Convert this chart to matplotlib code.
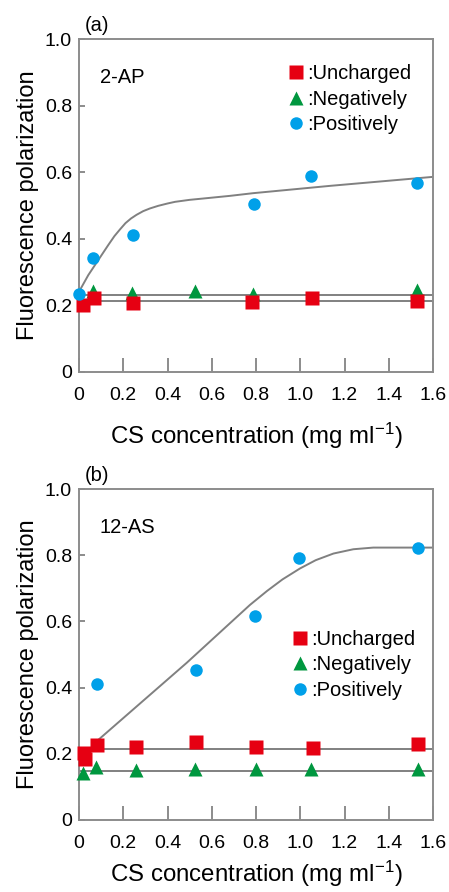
import matplotlib
matplotlib.use("Agg")
import matplotlib.pyplot as plt
from matplotlib.lines import Line2D

plt.rcParams['font.family'] = ['Liberation Sans', 'DejaVu Sans']
plt.rcParams['mathtext.fontset'] = 'custom'
plt.rcParams['mathtext.rm'] = 'Liberation Sans'
plt.rcParams['mathtext.it'] = 'Liberation Sans:italic'

# ---------------- data ----------------
# Panel (a) 2-AP
a_unch_x = [0.02, 0.068, 0.245, 0.78, 1.052, 1.526]
a_unch_y = [0.201, 0.221, 0.206, 0.211, 0.221, 0.212]
a_neg_x = [0.064, 0.24, 0.524, 0.788, 1.526]
a_neg_y = [0.244, 0.236, 0.242, 0.235, 0.245]
a_pos_x = [0.0, 0.062, 0.245, 0.791, 1.047, 1.526]
a_pos_y = [0.234, 0.341, 0.412, 0.506, 0.589, 0.569]
a_fit_unch = 0.214
a_fit_neg = 0.231
a_curve_x = [0.0, 0.042, 0.087, 0.132, 0.160, 0.185, 0.210, 0.235, 0.260, 0.290, 0.320, 0.358, 0.400,
             0.434, 0.500, 0.562, 0.683, 0.787, 1.135, 1.6]
a_curve_y = [0.241, 0.291, 0.336, 0.381, 0.408, 0.428, 0.447, 0.461, 0.472, 0.483, 0.491, 0.499, 0.506,
             0.511, 0.517, 0.521, 0.529, 0.537, 0.559, 0.586]

# Panel (b) 12-AS
b_unch_x = [0.023, 0.025, 0.08, 0.258, 0.529, 0.8, 1.059, 1.534]
b_unch_y = [0.203, 0.183, 0.227, 0.220, 0.237, 0.222, 0.217, 0.229]
b_neg_x = [0.017, 0.075, 0.258, 0.524, 0.8, 1.05, 1.534]
b_neg_y = [0.142, 0.161, 0.151, 0.153, 0.153, 0.153, 0.153]
b_pos_x = [0.08, 0.529, 0.795, 0.996, 1.534]
b_pos_y = [0.411, 0.453, 0.616, 0.792, 0.822]
b_fit_unch = 0.213
b_fit_neg = 0.148
b_curve_x = [0.075, 0.487, 0.773, 0.85, 0.92, 0.999, 1.07, 1.15, 1.24, 1.33, 1.6]
b_curve_y = [0.235, 0.475, 0.650, 0.692, 0.727, 0.760, 0.785, 0.805, 0.818, 0.823, 0.823]

x_ticks = [0, 0.2, 0.4, 0.6, 0.8, 1.0, 1.2, 1.4, 1.6]
x_ticklabels = ['0', '0.2', '0.4', '0.6', '0.8', '1.0', '1.2', '1.4', '1.6']
y_ticks = [0, 0.2, 0.4, 0.6, 0.8, 1.0]
y_ticklabels = ['0', '0.2', '0.4', '0.6', '0.8', '1.0']
labels = [':Uncharged', ':Negatively', ':Positively']

RED = '#E60012'
GREEN = '#00973F'
BLUE = '#00A0E9'
GRAY = '#808080'
SPINE = '#8C8C8C'

fig = plt.figure(figsize=(4.49, 8.92), dpi=100)
ax_a = fig.add_axes([79/449, (892-372)/892, 354/449, 333/892])
ax_b = fig.add_axes([79/449, (892-820)/892, 354/449, 331/892])


def draw(ax, ux, uy, nx, ny, px, py, fu, fn, cx, cy, tag, name, leg_anchor, xlpad):
    ax.axhline(fu, color=GRAY, lw=1.4, zorder=2)
    ax.axhline(fn, color=GRAY, lw=1.4, zorder=2)
    ax.plot(cx, cy, color=GRAY, lw=1.4, zorder=2)
    ax.plot(nx, ny, ls='none', marker='^', ms=10, color=GREEN, mec='none', zorder=3, clip_on=False)
    ax.plot(ux, uy, ls='none', marker='s', ms=9.6, color=RED, mec='none', zorder=4, clip_on=False)
    ax.plot(px, py, ls='none', marker='o', ms=9, color=BLUE, mec='none', zorder=5, clip_on=False)

    ax.set_xlim(0, 1.6)
    ax.set_ylim(0, 1.0)
    ax.set_xticks(x_ticks)
    ax.set_xticklabels(x_ticklabels)
    ax.set_yticks(y_ticks)
    ax.set_yticklabels(y_ticklabels)
    ax.tick_params(axis='x', direction='in', length=10, width=1.4, color=SPINE,
                   labelsize=14, pad=11)
    ax.tick_params(axis='y', direction='in', length=4.5, width=1.4, color=SPINE,
                   labelsize=14, pad=5)
    for s in ax.spines.values():
        s.set_color(SPINE)
        s.set_linewidth(1.4)
    ax.set_xlabel('CS concentration (mg ml$^{-1}$)', fontsize=17.3, labelpad=xlpad)
    ax.set_ylabel('Fluorescence polarization', fontsize=17, labelpad=4)
    ax.text(0.017, 1.042, tag, transform=ax.transAxes, fontsize=14.5, va='center', ha='left')
    ax.text(0.059, 0.885, name, transform=ax.transAxes, fontsize=14.5, va='center', ha='left')

    handles = [
        Line2D([], [], ls='none', marker='s', ms=9.6, color=RED, mec='none'),
        Line2D([], [], ls='none', marker='^', ms=10, color=GREEN, mec='none'),
        Line2D([], [], ls='none', marker='o', ms=9, color=BLUE, mec='none'),
    ]
    ax.legend(handles, labels, loc='upper left', bbox_to_anchor=leg_anchor,
              frameon=False, fontsize=14.5, handlelength=0.7, handletextpad=0.22,
              labelspacing=0.33, borderpad=0, borderaxespad=0, numpoints=1)


draw(ax_a, a_unch_x, a_unch_y, a_neg_x, a_neg_y, a_pos_x, a_pos_y,
     a_fit_unch, a_fit_neg, a_curve_x, a_curve_y, '(a)', '2-AP', (0.592, 0.925), 12)
draw(ax_b, b_unch_x, b_unch_y, b_neg_x, b_neg_y, b_pos_x, b_pos_y,
     b_fit_unch, b_fit_neg, b_curve_x, b_curve_y, '(b)', '12-AS', (0.604, 0.575), 5)

fig.savefig('out.png', dpi=100)
